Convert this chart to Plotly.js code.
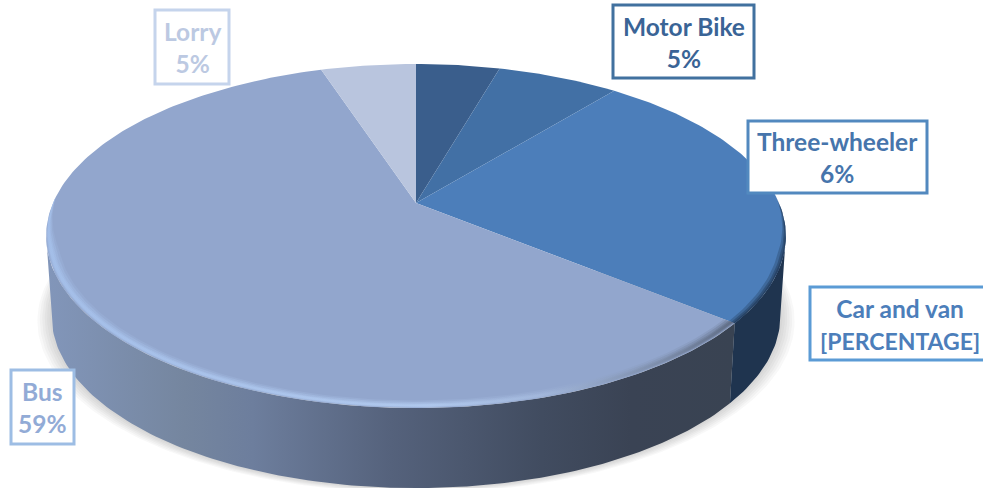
<!DOCTYPE html>
<html>
<head>
<meta charset="utf-8">
<script src="https://cdn.plot.ly/plotly-3.0.1.min.js"></script>
<style>html,body{margin:0;padding:0;background:#fff}#c{width:983px;height:488px}</style>
</head>
<body>
<div id="c"></div>
<script>
// Data, clockwise from 12 o'clock
const categories = ["Motor Bike", "Three-wheeler", "Car and van", "Bus", "Lorry"];
const shares = [4.4, 6.4, 25.2, 59, 5];
const labelValues = ["5%", "6%", "[PERCENTAGE]", "59%", "5%"];

// Styles
const sliceColors = ["#3A5E8C", "#4270A5", "#4C7EBA", "#92A6CD", "#B9C5DE"];
const textColors = ["#3A6496", "#4675AC", "#4C7EBA", "#92ABD6", "#BCC9E2"];
const borderColors = ["#41719F", "#5289BF", "#5B9BD5", "#9DBDE4", "#C5D4EC"];

// Projection of the tilted disc
const cx = 416, cy = 203, A = 363, B = 165.7, K = 0.192, depth = 80, shrink = 0.985;
function pt(deg, r, dy, sx) {
  const t = deg * Math.PI / 180, u = r * Math.sin(t), v = r * Math.cos(t), w = 1 + K * v;
  return [cx + (sx || 1) * A * u / w, cy - B * v / w + (dy || 0)];
}
function arc(a0, a1, r, dy, sx) {
  const n = Math.max(2, Math.ceil(Math.abs(a1 - a0))), out = [];
  for (let i = 0; i <= n; i++) out.push(pt(a0 + (a1 - a0) * i / n, r, dy, sx));
  return out;
}
function poly(points, extra) {
  return Object.assign({
    x: points.map(p => p[0]), y: points.map(p => p[1]), type: "scatter", mode: "lines",
    fill: "toself", line: { width: 0 }, hoverinfo: "skip", showlegend: false
  }, extra);
}
// rim band of relative width w, tapering to nothing over `fade` degrees at each chosen end
function band(a0, a1, w, fade0, fade1, rimInset) {
  const outer = [], inner = [], n = Math.ceil(a1 - a0), ins = rimInset || 0;
  for (let i = 0; i <= n; i++) {
    const a = a0 + (a1 - a0) * i / n;
    let f = 1;
    if (fade0) f = Math.min(f, (a - a0) / fade0);
    if (fade1) f = Math.min(f, (a1 - a) / fade1);
    outer.push(pt(a, 1 - ins * f));
    inner.push(pt(a, 1 - (ins + w) * f));
  }
  return outer.concat(inner.reverse());
}
const bounds = [0];
shares.forEach((s, i) => bounds.push(bounds[i] + s * 3.6));
const carEnd = bounds[3];
const rightEdge = 101, leftEdge = 259;

const traces = [];
// soft shadow under the wall
for (let i = 0; i < 6; i++) {
  const g = 14 - i * 2.4;
  const pts = arc(60, 300, 1, depth + g * 0.35, shrink + g / 363).concat(
    arc(60, 300, 0.6, 0, 1).reverse());
  traces.push(poly(pts, { fillcolor: "rgba(70,70,70,0.035)" }));
}
// side walls
const busWall = arc(carEnd, leftEdge, 1).concat(arc(carEnd, leftEdge, 1, depth, shrink).reverse());
traces.push(poly(busWall, {
  fillgradient: { type: "horizontal", colorscale: [
    [0, "#8296BA"], [0.2, "#75869F"], [0.3, "#6D7E9D"], [0.5, "#55627C"],
    [0.72, "#414C60"], [0.85, "#3A4354"], [1, "#394352"]] }
}));
const carWall = arc(rightEdge, carEnd, 1).concat(arc(rightEdge, carEnd, 1, depth, shrink).reverse());
traces.push(poly(carWall, { fillcolor: "#1F344F" }));
// top-face slices
categories.forEach((name, i) => {
  const pts = [[cx, cy]].concat(arc(bounds[i], bounds[i + 1], 1)).concat([[cx, cy]]);
  traces.push(poly(pts, { fillcolor: sliceColors[i], name: name }));
});
// soft bevel along the front rim
const bevelStops = [[0.0, "#A5C0EA"], [0.55, "#B2CBF0"], [0.72, "#A3B8DC"], [0.9, "#7A8AA6"], [1, "#5D6A82"]];
[[0.03, 0, 0.2], [0.022, 0.002, 0.35], [0.014, 0.004, 0.5], [0.008, 0.006, 0.7]].forEach(([w, ins, op]) => {
  traces.push(poly(band(carEnd, 272, w, 0, 18, ins), {
    opacity: op, fillgradient: { type: "horizontal", colorscale: bevelStops }
  }));
});
// dark blurred edge where the car slice meets its wall
[[0.016, 0.3], [0.009, 0.4], [0.004, 0.5]].forEach(([w, op]) => {
  traces.push(poly(band(88, carEnd, w, 20, 0), { fillcolor: "#1F344F", opacity: op }));
});

// label boxes
const boxes = [[613, 754, 5, 78], [748, 927, 121, 193], [810, 990, 287, 360], [11, 74, 370, 444], [155, 229, 10, 84]];
const shapes = boxes.map((b, i) => ({
  type: "rect", xref: "x", yref: "y", x0: b[0], x1: b[1], y0: b[2], y1: b[3],
  fillcolor: "#fff", line: { color: borderColors[i], width: 3 }, layer: "above"
}));
const annotations = boxes.map((b, i) => {
  const second = labelValues[i].length > 5
    ? '<span style="font-size:23px">' + labelValues[i] + "</span>" : labelValues[i];
  return {
    xref: "x", yref: "y", x: (b[0] + b[1]) / 2, y: (b[2] + b[3]) / 2 + 0.5,
    text: "<b>" + categories[i] + "<br>" + second + "</b>", showarrow: false,
    font: { family: "Lato, sans-serif", size: 24.5, color: textColors[i] }, align: "center"
  };
});

const hidden = { visible: false, fixedrange: true };
Plotly.newPlot("c", traces, {
  width: 983, height: 488, margin: { l: 0, r: 0, t: 0, b: 0 },
  paper_bgcolor: "#fff", plot_bgcolor: "#fff", showlegend: false,
  xaxis: Object.assign({ range: [0, 983] }, hidden),
  yaxis: Object.assign({ range: [488, 0] }, hidden),
  shapes: shapes, annotations: annotations
}, { displayModeBar: false, staticPlot: true });
</script>
</body>
</html>
